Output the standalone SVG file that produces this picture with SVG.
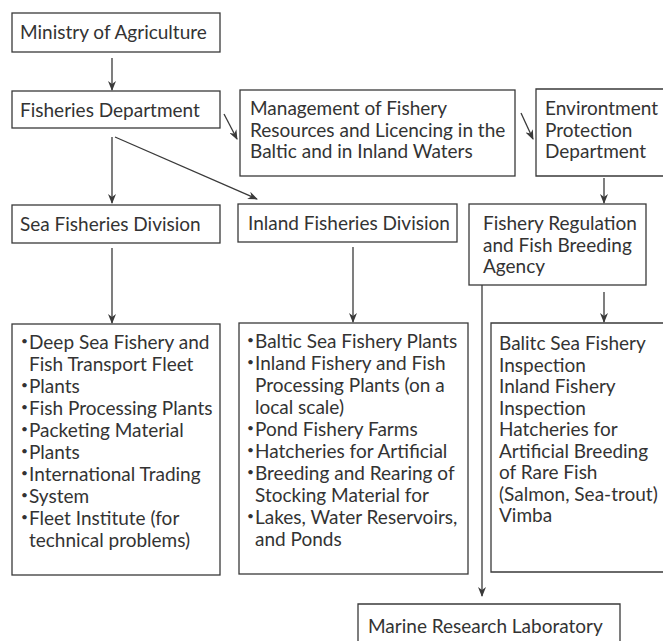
<svg xmlns="http://www.w3.org/2000/svg" width="663" height="641" viewBox="0 0 663 641">
<defs>
<style>
.box{fill:none;stroke:#3a3a3a;stroke-width:1.3}
.t{font-family:Lato,"Liberation Sans",sans-serif;font-size:19px;fill:#333}
.b{font-family:Lato,"Liberation Sans",sans-serif;font-size:12px;fill:#333}
.c{fill:none;stroke:#3a3a3a;stroke-width:1.3}
</style>
<marker id="ah" markerWidth="10" markerHeight="8" refX="9" refY="4" orient="auto" markerUnits="userSpaceOnUse">
<path d="M0,0 L10,4 L0,8 L3,4 z" fill="#3a3a3a"/>
</marker>
</defs>
<rect width="663" height="641" fill="#ffffff"/>
<g id="ministry"><rect class="box" x="12" y="13" width="208" height="39"/><text class="t" x="20" y="39">Ministry of Agriculture</text></g>
<g id="fisheries-dept"><rect class="box" x="12" y="91" width="208" height="37"/><text class="t" x="20" y="117">Fisheries Department</text></g>
<g id="management"><rect class="box" x="240" y="90" width="275" height="86"/><text class="t" x="250" y="115">Management of Fishery</text><text class="t" x="250" y="136.5">Resources and Licencing in the</text><text class="t" x="250" y="158">Baltic and in Inland Waters</text></g>
<g id="environment"><path class="box" d="M670,89 H536 V176 H670"/><text class="t" x="545" y="115">Environtment</text><text class="t" x="545" y="136.5">Protection</text><text class="t" x="545" y="158">Department</text></g>
<g id="sea-division"><rect class="box" x="12" y="205" width="208" height="38"/><text class="t" x="20" y="231">Sea Fisheries Division</text></g>
<g id="inland-division"><rect class="box" x="238" y="204" width="219" height="38"/><text class="t" x="248" y="230">Inland Fisheries Division</text></g>
<g id="regulation"><rect class="box" x="469" y="204" width="177" height="81"/><text class="t" x="483" y="230">Fishery Regulation</text><text class="t" x="483" y="251.5">and Fish Breeding</text><text class="t" x="483" y="273">Agency</text></g>
<g id="sea-list"><rect class="box" x="12" y="324" width="208" height="251"/>
<text class="b"><tspan x="21" y="345">•</tspan><tspan x="21" y="389">•</tspan><tspan x="21" y="411">•</tspan><tspan x="21" y="433">•</tspan><tspan x="21" y="455">•</tspan><tspan x="21" y="477">•</tspan><tspan x="21" y="499">•</tspan><tspan x="21" y="521">•</tspan></text>
<text class="t"><tspan x="29" y="349">Deep Sea Fishery and</tspan><tspan x="29" y="371">Fish Transport Fleet</tspan><tspan x="29" y="393">Plants</tspan><tspan x="29" y="415">Fish Processing Plants</tspan><tspan x="29" y="437">Packeting Material</tspan><tspan x="29" y="459">Plants</tspan><tspan x="29" y="481">International Trading</tspan><tspan x="29" y="503">System</tspan><tspan x="29" y="525">Fleet Institute (for</tspan><tspan x="29" y="547">technical problems)</tspan></text></g>
<g id="inland-list"><rect class="box" x="239" y="323" width="229" height="251"/>
<text class="b"><tspan x="247" y="344">•</tspan><tspan x="247" y="366">•</tspan><tspan x="247" y="432">•</tspan><tspan x="247" y="454">•</tspan><tspan x="247" y="476">•</tspan><tspan x="247" y="520">•</tspan></text>
<text class="t"><tspan x="255" y="348">Baltic Sea Fishery Plants</tspan><tspan x="255" y="370">Inland Fishery and Fish</tspan><tspan x="255" y="392">Processing Plants (on a</tspan><tspan x="255" y="414">local scale)</tspan><tspan x="255" y="436">Pond Fishery Farms</tspan><tspan x="255" y="458">Hatcheries for Artificial</tspan><tspan x="255" y="480">Breeding and Rearing of</tspan><tspan x="255" y="502">Stocking Material for</tspan><tspan x="255" y="524">Lakes, Water Reservoirs,</tspan><tspan x="255" y="546">and Ponds</tspan></text></g>
<g id="inspection-list"><path class="box" d="M670,323 H491 V572 H670"/>
<text class="t"><tspan x="499" y="350">Balitc Sea Fishery</tspan><tspan x="499" y="371.5">Inspection</tspan><tspan x="499" y="393">Inland Fishery</tspan><tspan x="499" y="414.5">Inspection</tspan><tspan x="499" y="436">Hatcheries for</tspan><tspan x="499" y="457.5">Artificial Breeding</tspan><tspan x="499" y="479">of Rare Fish</tspan><tspan x="499" y="500.5">(Salmon, Sea-trout)</tspan><tspan x="499" y="522">Vimba</tspan></text></g>
<g id="marine-lab"><path class="box" d="M358,645 V604 H620 V645"/><text class="t" x="368" y="633">Marine Research Laboratory</text></g>
<g id="connectors">
<line class="c" x1="112" y1="58" x2="112" y2="90" marker-end="url(#ah)"/>
<line class="c" x1="224" y1="114" x2="237" y2="139" marker-end="url(#ah)"/>
<line class="c" x1="521" y1="113" x2="533" y2="139" marker-end="url(#ah)"/>
<line class="c" x1="112" y1="137" x2="112" y2="203" marker-end="url(#ah)"/>
<line class="c" x1="115" y1="137" x2="257" y2="199" marker-end="url(#ah)"/>
<line class="c" x1="604" y1="178" x2="604" y2="203" marker-end="url(#ah)"/>
<line class="c" x1="112" y1="248" x2="112" y2="323" marker-end="url(#ah)"/>
<line class="c" x1="353" y1="247" x2="353" y2="322" marker-end="url(#ah)"/>
<line class="c" x1="604" y1="292" x2="604" y2="322" marker-end="url(#ah)"/>
<line class="c" x1="482" y1="285" x2="482" y2="596" marker-end="url(#ah)"/>
</g>
</svg>
